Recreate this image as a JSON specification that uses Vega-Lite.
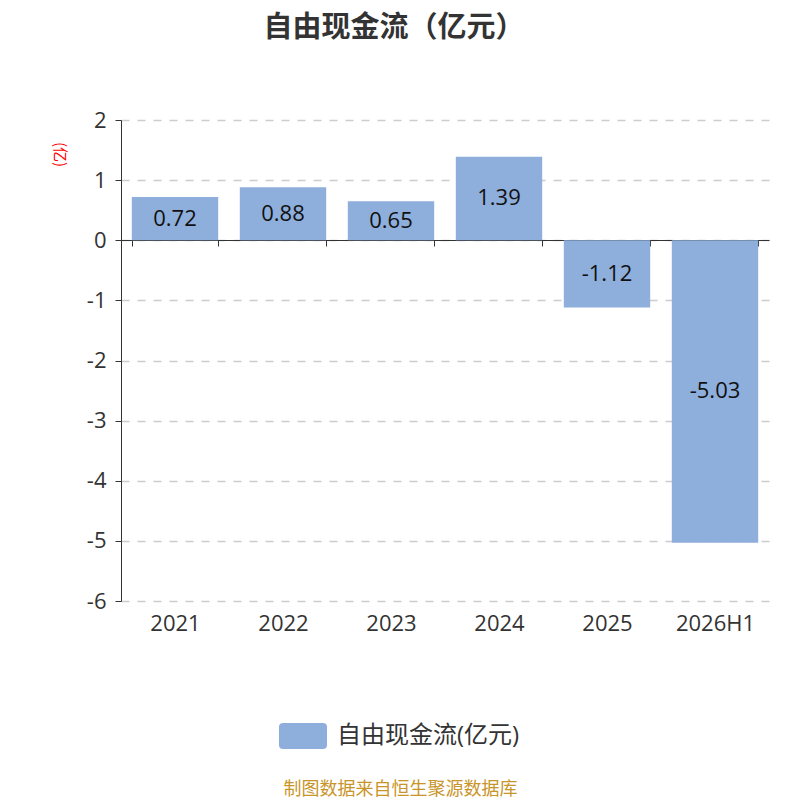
{
  "$schema": "https://vega.github.io/schema/vega-lite/v6.json",
  "width": 648,
  "height": 481,
  "autosize": {"type": "none"},
  "padding": {"left": 121, "top": 120, "right": 31, "bottom": 199},
  "background": "white",
  "config": {"view": {"stroke": null}, "font": "Open Sans, Noto Sans CJK SC"},
  "title": {
    "text": "自由现金流（亿元）",
    "fontSize": 29,
    "fontWeight": "bold",
    "color": "#333333",
    "anchor": "middle",
    "frame": "group",
    "dx": -51,
    "offset": 66,
    "font": "Noto Sans CJK SC"
  },
  "data": {
    "values": [
      {"year": "2021", "value": 0.72, "series": "自由现金流(亿元)"},
      {"year": "2022", "value": 0.88, "series": "自由现金流(亿元)"},
      {"year": "2023", "value": 0.65, "series": "自由现金流(亿元)"},
      {"year": "2024", "value": 1.39, "series": "自由现金流(亿元)"},
      {"year": "2025", "value": -1.12, "series": "自由现金流(亿元)"},
      {"year": "2026H1", "value": -5.03, "series": "自由现金流(亿元)"}
    ]
  },
  "encoding": {
    "x": {
      "field": "year",
      "type": "nominal",
      "sort": null,
      "scale": {"paddingInner": 0.2, "paddingOuter": 0.1},
      "axis": {
        "orient": "bottom",
        "offset": -361,
        "domainColor": "#333333",
        "tickColor": "#333333",
        "tickBand": "extent",
        "tickSize": 6,
        "labelAngle": 0,
        "labelFontSize": 22,
        "labelColor": "#333333",
        "labelPadding": 367,
        "labelFont": "Open Sans, Noto Sans CJK SC",
        "title": "制图数据来自恒生聚源数据库",
        "titleFontSize": 18,
        "titleFontWeight": "normal",
        "titleColor": "#c8952a",
        "titleFont": "Noto Sans CJK SC",
        "titleX": 279,
        "titleY": 549,
        "titleAlign": "center",
        "titleBaseline": "middle",
        "zindex": 0
      }
    },
    "y": {
      "field": "value",
      "type": "quantitative",
      "scale": {"domain": [-6, 2], "nice": false, "zero": false},
      "axis": {
        "values": [-6, -5, -4, -3, -2, -1, 0, 1, 2],
        "labelExpr": "replace(datum.label, '\u2212', '-')",
        "domainColor": "#333333",
        "tickColor": "#333333",
        "tickSize": 6,
        "labelFontSize": 22,
        "labelColor": "#333333",
        "labelPadding": 9,
        "labelFont": "Open Sans, Noto Sans CJK SC",
        "grid": true,
        "gridColor": "#cccccc",
        "gridDash": [8, 8],
        "gridWidth": 1.5,
        "title": "(亿)",
        "titleColor": "#ff0000",
        "titleFont": "Noto Sans CJK SC",
        "titleFontSize": 15,
        "titleFontWeight": "normal",
        "titleAngle": 90,
        "titleX": -62,
        "titleY": 34,
        "titleAlign": "center",
        "titleBaseline": "middle"
      }
    }
  },
  "layer": [
    {
      "mark": {"type": "bar", "color": "#8eaedb"},
      "encoding": {
        "y2": {"datum": 0},
        "color": {
          "field": "series",
          "type": "nominal",
          "scale": {"range": ["#8eaedb"]},
          "legend": {
            "orient": "none",
            "legendX": 158,
            "legendY": 592,
            "title": null,
            "symbolType": "M-0.83,-0.54 L0.83,-0.54 Q1,-0.54 1,-0.37 L1,0.37 Q1,0.54 0.83,0.54 L-0.83,0.54 Q-1,0.54 -1,0.37 L-1,-0.37 Q-1,-0.54 -0.83,-0.54 Z",
            "symbolSize": 2304,
            "symbolStrokeWidth": 0,
            "symbolOpacity": 1,
            "labelFontSize": 24,
            "labelLimit": 400,
            "labelColor": "#333333",
            "labelFont": "Open Sans, Noto Sans CJK SC",
            "labelOffset": 10
          }
        }
      }
    },
    {
      "transform": [{"calculate": "datum.value / 2", "as": "labelPos"}],
      "mark": {"type": "text", "fontSize": 22, "color": "#111111", "font": "Open Sans, Noto Sans CJK SC", "baseline": "middle"},
      "encoding": {
        "y": {"field": "labelPos", "type": "quantitative"},
        "text": {"field": "value", "type": "nominal"}
      }
    }
  ]
}
